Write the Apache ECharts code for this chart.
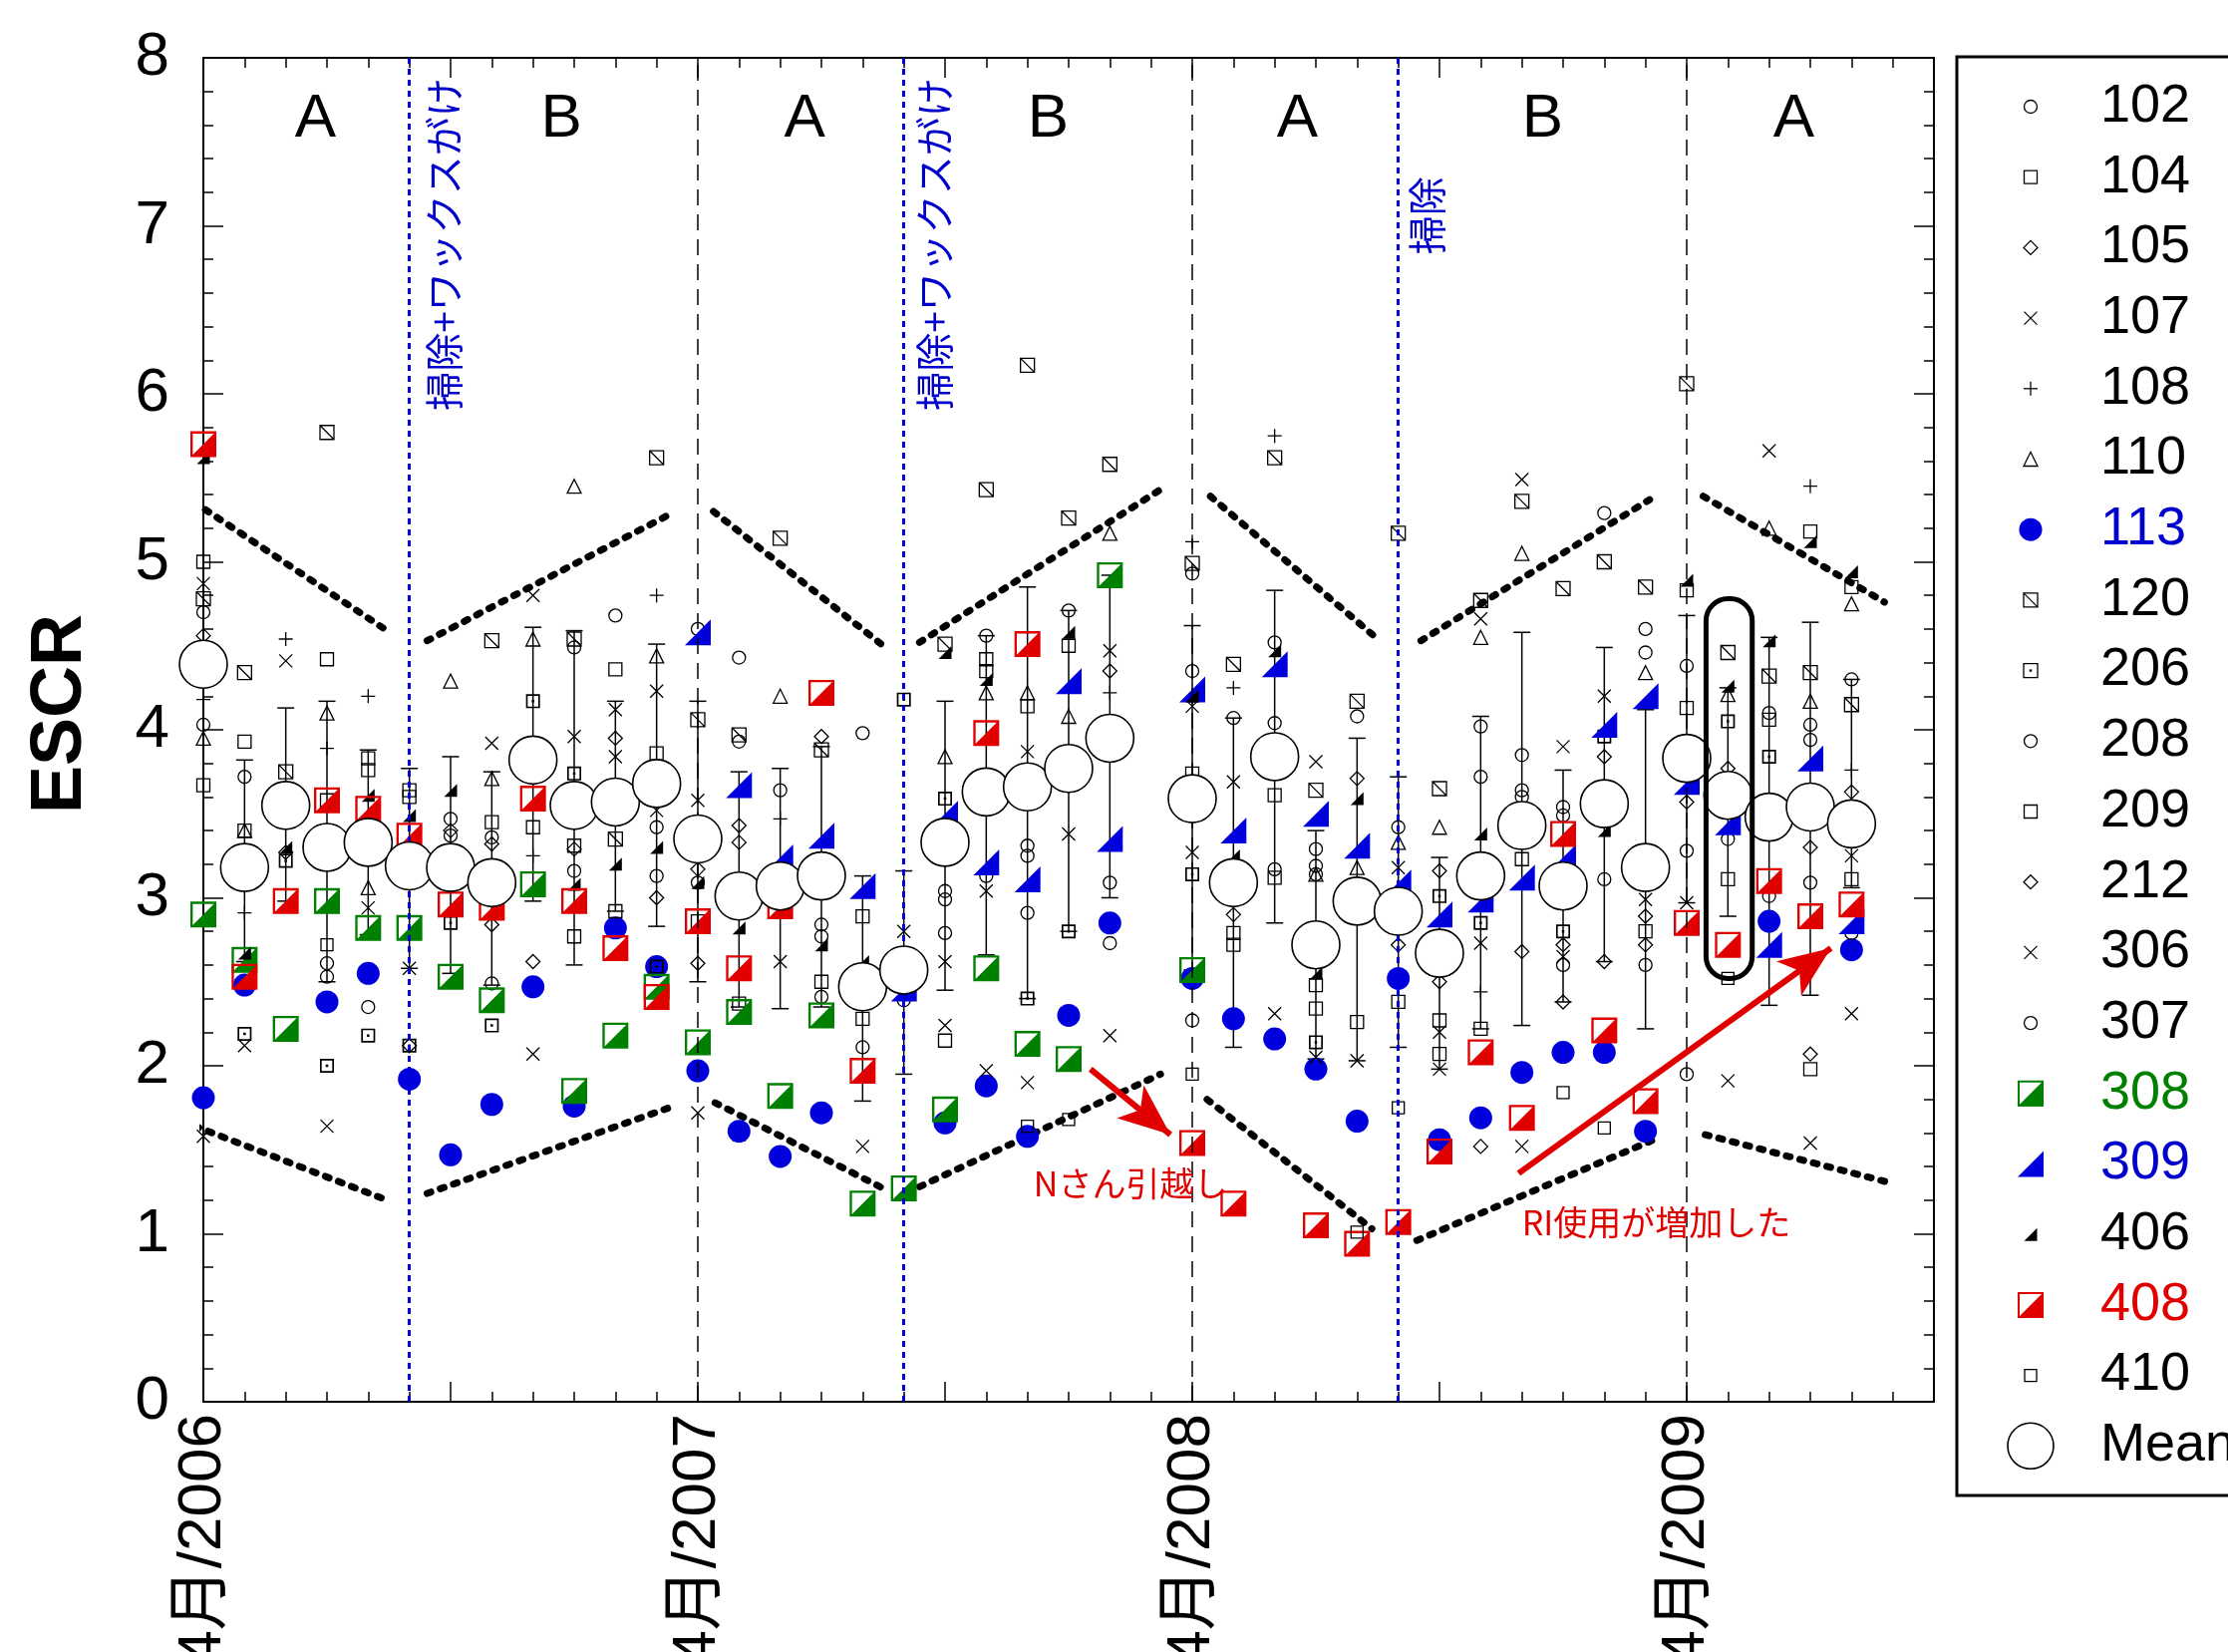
<!DOCTYPE html>
<html>
<head>
<meta charset="utf-8">
<script src="https://cdn.jsdelivr.net/npm/echarts@6/dist/echarts.min.js"></script>
<style>html,body{margin:0;padding:0;background:#fff;overflow:hidden}#chart{width:2235px;height:1657px}</style>
</head>
<body>
<div id="chart"></div>
<script>
// ================= DATA =================
const xTickLabels = ['4月/2006', '4月/2007', '4月/2008', '4月/2009'];
// month index 0 = April 2006
const months = [0,1,2,3,4,5,6,7,8,9,10,11,12,13,14,15,16,17,18,19,20,21,22,23,24,25,26,27,28,29,30,31,32,33,34,35,36,37,38,39,40];
const meanESCR = [4.39,3.18,3.55,3.30,3.33,3.19,3.18,3.09,3.82,3.55,3.57,3.68,3.35,3.01,3.07,3.13,2.47,2.57,3.33,3.63,3.66,3.77,3.95,null,3.59,3.09,3.84,2.72,2.98,2.92,2.67,3.13,3.43,3.07,3.56,3.18,3.83,3.61,3.48,3.54,3.44];
const meanLow  = [null,2.62,2.98,2.50,2.78,2.58,2.55,2.48,2.98,2.60,2.92,2.83,2.50,2.35,2.34,2.35,1.79,1.95,2.45,2.66,2.40,2.80,3.00,null,2.57,2.11,2.85,2.04,2.03,2.11,1.98,2.22,2.24,2.38,2.62,2.22,2.97,2.89,2.36,2.42,3.06];
const meanHigh = [null,3.82,4.13,4.17,3.88,3.77,3.84,3.75,4.61,4.59,4.17,4.51,4.17,3.75,3.77,3.90,3.13,3.16,4.17,4.56,4.85,4.71,4.92,null,4.62,4.07,4.83,3.40,3.95,3.72,3.24,4.08,4.58,3.76,4.49,4.12,4.68,4.25,4.55,4.64,4.30];

// [month, ESCR]
const s102 = [[0,4.70],[1,3.72],[3,2.61],[4,2.35],[6,3.47],[7,3.36],[8,3.88],[9,4.49],[10,4.68],[11,3.42],[12,4.60],[13,4.43],[14,3.64],[15,2.84],[16,3.98],[17,2.39],[18,3.04],[19,4.56],[20,3.31],[21,4.71],[22,3.09],[24,4.93],[25,4.07],[26,4.52],[27,3.29],[28,4.08],[29,3.42],[31,4.02],[32,3.85],[33,3.54],[34,5.29],[35,4.60],[36,4.38],[37,3.35],[38,4.10],[39,4.03],[40,4.30]];
const s104 = [[0,5.00],[1,3.93],[3,4.42],[4,3.83],[5,3.64],[7,3.45],[8,3.42],[9,3.31],[10,4.36],[11,3.86],[12,2.86],[13,2.37],[15,2.50],[16,2.89],[18,2.15],[19,4.42],[20,4.14],[21,4.50],[24,3.74],[25,2.79],[26,3.61],[27,2.34],[28,2.26],[29,2.38],[30,2.27],[31,2.22],[35,2.80],[36,4.83],[37,3.11],[38,4.06],[39,5.18],[40,4.85]];
const s105 = [[0,4.56],[2,3.27],[4,2.57],[5,2.12],[6,3.40],[7,3.32],[8,2.62],[9,3.29],[10,3.95],[11,3.00],[12,3.17],[13,3.43],[15,3.96],[22,4.35],[25,2.90],[28,3.71],[29,2.72],[30,3.16],[31,1.52],[32,2.68],[33,2.72],[34,3.84],[35,2.89],[36,3.57],[37,3.77],[39,3.30],[40,3.63]];
const s107 = [[0,4.87],[1,2.12],[2,4.41],[3,1.64],[4,2.94],[5,2.58],[7,3.92],[8,4.80],[9,3.96],[10,4.12],[11,4.23],[12,3.58],[13,1.59],[14,2.62],[16,1.52],[17,2.80],[18,2.62],[19,3.04],[20,3.87],[21,3.38],[22,4.47],[24,4.14],[25,3.69],[26,2.31],[27,3.81],[28,2.03],[29,3.18],[30,2.20],[31,4.66],[32,5.49],[33,3.90],[34,4.20],[35,2.99],[36,2.97],[37,1.91],[38,5.66],[39,1.54],[40,3.25]];
const s108 = [[0,4.18],[1,2.91],[2,4.54],[3,3.89],[4,4.20],[8,3.25],[11,4.80],[14,3.47],[22,4.22],[24,5.12],[25,4.25],[26,5.75],[31,2.44],[39,5.45],[40,3.76]];
const s110 = [[0,3.95],[1,3.40],[3,4.10],[4,3.06],[6,4.29],[7,3.71],[8,4.54],[9,5.45],[11,4.44],[14,4.20],[18,3.84],[19,4.22],[20,4.22],[21,4.08],[22,5.17],[27,3.14],[28,3.18],[29,3.33],[30,3.42],[31,4.55],[32,5.05],[35,4.34],[37,4.21],[38,5.20],[39,4.17],[40,4.75]];
const s113 = [[0,1.81],[1,2.48],[3,2.38],[4,2.55],[5,1.92],[6,1.47],[7,1.77],[8,2.47],[9,1.76],[10,2.82],[11,2.59],[12,1.97],[13,1.61],[14,1.46],[15,1.72],[18,1.66],[19,1.88],[20,1.58],[21,2.30],[22,2.85],[24,2.52],[25,2.28],[26,2.16],[27,1.98],[28,1.67],[29,2.52],[30,1.56],[31,1.69],[32,1.96],[33,2.08],[34,2.08],[35,1.61],[38,2.86],[40,2.69]];
const s120 = [[0,4.78],[1,4.34],[2,3.75],[3,5.77],[7,4.53],[9,4.54],[10,3.35],[11,5.62],[12,4.06],[13,3.97],[14,5.14],[15,3.88],[18,4.51],[19,5.43],[20,6.17],[21,5.26],[22,5.58],[24,4.99],[25,4.39],[26,5.62],[27,3.64],[28,4.17],[29,5.17],[30,3.65],[31,4.77],[32,5.36],[33,4.84],[34,5.00],[35,4.85],[36,6.06],[37,4.46],[38,4.32],[39,4.34],[40,4.15]];
const s206 = [[1,2.19],[2,3.22],[3,2.00],[4,2.18],[5,2.12],[6,2.85],[7,2.24],[8,4.17],[9,3.74],[11,2.59],[17,4.18],[18,3.59],[20,2.40],[21,2.80],[24,3.14],[27,2.14],[30,3.01],[31,2.85],[33,2.80],[34,3.96],[37,4.05],[38,3.84]];
const s208 = [[0,4.03],[3,2.53],[6,3.37],[7,2.49],[9,3.16],[11,3.13],[12,3.09],[13,3.93],[15,2.77],[16,2.11],[18,2.99],[19,3.13],[20,3.25],[22,2.73],[24,4.35],[26,4.04],[27,3.19],[31,3.72],[32,3.64],[33,3.49],[34,3.11],[35,4.46],[36,3.28],[38,3.01],[39,3.94],[40,2.79]];
const s209 = [[0,3.67],[1,3.40],[3,3.58],[4,3.76],[5,3.60],[9,2.77],[10,2.92],[16,2.28],[19,4.35],[25,2.72],[26,3.12],[27,2.48],[30,2.07],[32,3.23],[36,4.13],[39,1.98],[40,3.11]];
const s212 = [[7,2.84],[12,2.61],[13,3.33],[30,2.50],[33,2.38],[34,2.62],[35,2.72],[39,2.07]];
const s306 = [[0,1.58],[8,2.07],[10,3.84],[11,3.52],[12,1.72],[18,2.24],[19,1.97],[20,1.90],[22,2.18],[24,3.27],[27,2.05],[30,1.98],[31,2.73],[32,1.52],[33,2.65],[40,2.31]];
const s307 = [[15,2.41],[18,2.79],[20,2.91],[24,2.27],[26,3.17],[27,3.14],[32,3.60],[33,2.60],[35,2.60],[36,1.95],[39,3.09]];
const s308 = [[0,2.90],[1,2.63],[2,2.22],[3,2.98],[4,2.82],[5,2.82],[6,2.53],[7,2.39],[8,3.08],[9,1.85],[10,2.18],[11,2.47],[12,2.14],[13,2.32],[14,1.82],[15,2.30],[16,1.18],[17,1.27],[18,1.74],[19,2.58],[20,2.13],[21,2.04],[22,4.92],[24,2.57]];
const s309 = [[12,4.58],[13,3.67],[14,3.24],[15,3.37],[16,3.07],[17,2.46],[18,3.50],[19,3.21],[20,3.11],[21,4.29],[22,3.35],[24,4.24],[25,3.40],[26,4.39],[27,3.50],[28,3.31],[29,3.09],[30,2.90],[31,2.99],[32,3.12],[33,3.24],[34,4.03],[35,4.20],[36,3.69],[37,3.45],[38,2.72],[39,3.83],[40,2.86]];
const s406 = [[0,5.62],[1,2.67],[2,3.30],[4,3.61],[5,3.49],[6,3.64],[9,3.08],[10,3.20],[11,3.30],[12,3.09],[13,2.82],[15,2.72],[16,2.62],[18,4.46],[19,4.30],[21,4.58],[24,4.20],[25,3.25],[26,4.47],[27,2.55],[28,3.59],[31,3.38],[34,3.40],[36,4.89],[37,4.26],[38,4.53],[39,5.12],[40,4.94]];
const s408 = [[0,5.70],[1,2.53],[2,2.98],[3,3.58],[4,3.53],[5,3.37],[6,2.96],[7,2.94],[8,3.59],[9,2.98],[10,2.70],[11,2.41],[12,2.86],[13,2.58],[14,2.95],[15,4.22],[16,1.97],[19,3.98],[20,4.51],[24,1.54],[25,1.18],[27,1.05],[28,0.94],[29,1.07],[30,1.49],[31,2.08],[32,1.69],[33,3.38],[34,2.21],[35,1.79],[36,2.85],[37,2.72],[38,3.10],[39,2.89],[40,2.96]];
const s410 = [[3,2.72],[20,1.64],[21,1.68],[24,1.95],[28,1.01],[29,1.75],[33,1.84],[34,1.63],[37,2.52]];

// control limits (upper / lower), one segment per period
const upperLimits = [[[0.05,5.31],[4.46,4.59]],[[5.43,4.53],[11.3,5.28]],[[12.38,5.30],[16.45,4.51]],[[17.38,4.52],[23.23,5.43]],[[24.44,5.39],[28.5,4.54]],[[29.55,4.53],[35.1,5.37]],[[36.4,5.39],[40.8,4.76]]];
const lowerLimits = [[[-0.2,1.64],[4.46,1.20]],[[5.43,1.24],[11.3,1.75]],[[12.42,1.78],[16.5,1.27]],[[17.38,1.28],[23.23,1.95]],[[24.36,1.80],[28.36,1.03]],[[29.45,0.96],[35.3,1.57]],[[36.45,1.59],[40.83,1.31]]];
const fiscalYearStarts = [12, 24, 36];
const cleaningMonths = [5, 17, 29];

// annotations
const periodNames = ['A','B','A','B','A','B','A'];
const periodCenters = [2.72, 8.69, 14.59, 20.5, 26.55, 32.5, 38.6];
const eventNotes = [
  {text:'掃除+ワックスがけ', at:[5.83, 5.90]},
  {text:'掃除+ワックスがけ', at:[17.74, 5.90]},
  {text:'掃除', at:[29.69, 6.83]}
];
const redNotes = [
  {text:'Nさん引越し', at:[20.15, 1.30]},
  {text:'RI使用が増加した', at:[32.0, 1.07]}
];
const redArrows = [[[21.53, 1.98], [23.47, 1.59]], [[31.92, 1.36], [39.5, 2.70]]];
const highlightBox = [36.47, 4.78, 37.59, 2.52];

// ================= STYLE =================
const NARROW = "'Liberation Sans Narrow','Liberation Sans','Noto Sans CJK JP',sans-serif";
const SANS = "'Liberation Sans','Noto Sans CJK JP',sans-serif";
const CJK = "'Noto Sans CJK JP',sans-serif";
const BLUE = '#0000dd', GREEN = '#008000', RED = '#e00000';
const P = {
  sq: 'M0,0L10,0L10,10L0,10Z',
  dia: 'M5,0L10,5L5,10L0,5Z',
  x: 'M0,0L10,10M10,0L0,10',
  plus: 'M5,0L5,10M0,5L10,5',
  tri: 'M5,0L10,10L0,10Z',
  boxDiag: 'M0,0L10,0L10,10L0,10ZM0,0L10,10',
  boxDot: 'M0,0L10,0L10,10L0,10ZM1.2,1.2L1.2,8.8L8.8,8.8L8.8,1.2ZM4.1,4.1L5.9,4.1L5.9,5.9L4.1,5.9Z',
  half: 'M0,0L10,0L10,10L0,10ZM0.9,0.9L0.9,9.1L9.1,9.1L9.1,0.9ZM0,10L10,0L10,10Z',
  rtri: 'M0,10L10,0L10,10Z'
};
const STY = [
  {name:'102', data:s102, shape:'circle', size:13},
  {name:'104', data:s104, shape:'sq', size:13},
  {name:'105', data:s105, shape:'dia', size:14},
  {name:'107', data:s107, shape:'x', size:13},
  {name:'108', data:s108, shape:'plus', size:14},
  {name:'110', data:s110, shape:'tri', size:14},
  {name:'113', data:s113, shape:'circle', size:23, fill:BLUE, text:'#0000cc'},
  {name:'120', data:s120, shape:'boxDiag', size:14},
  {name:'206', data:s206, shape:'boxDot', size:14, fill:'#000'},
  {name:'208', data:s208, shape:'circle', size:13},
  {name:'209', data:s209, shape:'sq', size:13},
  {name:'212', data:s212, shape:'dia', size:14},
  {name:'306', data:s306, shape:'x', size:13},
  {name:'307', data:s307, shape:'circle', size:13},
  {name:'308', data:s308, shape:'half', size:26, fill:GREEN, text:GREEN},
  {name:'309', data:s309, shape:'rtri', size:26, fill:BLUE, text:'#0000cc'},
  {name:'406', data:s406, shape:'rtri', size:13, fill:'#000'},
  {name:'408', data:s408, shape:'half', size:26, fill:RED, text:RED},
  {name:'410', data:s410, shape:'sq', size:12}
];

function itemStyleFor(s){
  return s.fill ? {color:s.fill, borderWidth:0, opacity:1}
                : {color:'rgba(255,255,255,0)', borderColor:'#000', borderWidth:1.3, opacity:1};
}

const series = [];

// vertical reference lines (bottom layer)
series.push({type:'line', data:[], z:1, silent:true,
  markLine:{silent:true, symbol:'none', animation:false, label:{show:false},
    lineStyle:{color:'#000', type:[16,9], width:1.5},
    data: fiscalYearStarts.map(m => ({xAxis:m}))}});
series.push({type:'line', data:[], z:1, silent:true,
  markLine:{silent:true, symbol:'none', animation:false, label:{show:false},
    lineStyle:{color:BLUE, type:[6,5], width:3},
    data: cleaningMonths.map(m => ({xAxis:m}))}});

// control limits
upperLimits.concat(lowerLimits).forEach(seg => {
  series.push({type:'line', data:seg, symbol:'none', silent:true, clip:false, z:2,
    lineStyle:{color:'#000', width:7, type:[4,10], cap:'round'}});
});

// error bars of mean
series.push({type:'custom', name:'err', z:2, silent:true, clip:false,
  data: months.map((m,i) => meanLow[i]==null ? null : [m, meanLow[i], meanHigh[i]]).filter(d => d),
  encode:{x:0, y:[1,2]},
  renderItem(params, api){
    const x = api.value(0);
    const a = api.coord([x, api.value(1)]), b = api.coord([x, api.value(2)]);
    const w = 8.5, st = {stroke:'#000', lineWidth:1.5};
    return {type:'group', children:[
      {type:'line', shape:{x1:a[0], y1:a[1], x2:b[0], y2:b[1]}, style:st},
      {type:'line', shape:{x1:a[0]-w, y1:a[1], x2:a[0]+w, y2:a[1]}, style:st},
      {type:'line', shape:{x1:b[0]-w, y1:b[1], x2:b[0]+w, y2:b[1]}, style:st}
    ]};
  }});

// individual sampling points
STY.forEach((s, k) => {
  series.push({type:'scatter', name:s.name, data:s.data, clip:false, silent:true, z:3,
    symbol: s.shape === 'circle' ? 'circle' : 'path://' + P[s.shape],
    symbolSize: s.size, itemStyle: itemStyleFor(s), emphasis:{disabled:true}});
});

// means
series.push({type:'scatter', name:'Mean', clip:false, silent:true, z:5,
  data: months.map((m,i) => meanESCR[i]==null ? null : [m, meanESCR[i]]).filter(d => d),
  symbol:'circle', symbolSize:48,
  itemStyle:{color:'#fff', borderColor:'#000', borderWidth:1.6, opacity:1}, emphasis:{disabled:true}});

// red arrows
series.push({type:'line', data:[], z:7, silent:true,
  markLine:{silent:true, animation:false, symbol:['none','arrow'], symbolSize:[32,52], label:{show:false},
    lineStyle:{color:RED, width:6, type:'solid'},
    data: redArrows.map(a => [{coord:a[0]}, {coord:a[1]}])}});

// text annotations
const notes = [];
periodNames.forEach((t,i) => notes.push({text:t, at:[periodCenters[i], 7.63], size:62, font:NARROW, color:'#000', align:'center', rot:0}));
eventNotes.forEach(n => notes.push({text:n.text, at:n.at, size:39, font:CJK, color:'#0000cc', align:'left', rot:Math.PI/2}));
redNotes.forEach(n => notes.push({text:n.text, at:n.at, size:34, font:CJK, color:RED, align:'left', rot:0}));
series.push({type:'custom', name:'notes', z:7, silent:true, clip:false,
  data: notes.map(n => n.at), encode:{x:0, y:1},
  renderItem(params, api){
    const n = notes[params.dataIndex];
    const p = api.coord([api.value(0), api.value(1)]);
    return {type:'text', x:p[0], y:p[1], rotation:n.rot,
      style:{text:n.text, fill:n.color, fontSize:n.size, fontFamily:n.font, align:n.align, verticalAlign:'middle'}};
  }});

// highlight rounded box
series.push({type:'custom', name:'box', z:7, silent:true, clip:false,
  data:[highlightBox], encode:{x:[0,2], y:[1,3]},
  renderItem(params, api){
    const a = api.coord([api.value(0), api.value(1)]);
    const b = api.coord([api.value(2), api.value(3)]);
    return {type:'rect', shape:{x:a[0], y:a[1], width:b[0]-a[0], height:b[1]-a[1], r:22},
      style:{fill:'none', stroke:'#000', lineWidth:5}};
  }});

// ================= LEGEND (drawn) =================
function legendIcon(shape, cx, cy, size, fill){
  const h = size / 2, x0 = cx - h, y0 = cy - h, x1 = cx + h, y1 = cy + h;
  const hollow = {fill:'none', stroke:'#000', lineWidth:1.3};
  const ln = (a,b,c,d) => ({type:'line', shape:{x1:a, y1:b, x2:c, y2:d}, style:{stroke:'#000', lineWidth:1.3}});
  switch (shape) {
    case 'circle': return [{type:'circle', shape:{cx, cy, r:h}, style: fill ? {fill, stroke:null} : hollow}];
    case 'sq': return [{type:'rect', shape:{x:x0, y:y0, width:size, height:size}, style:hollow}];
    case 'dia': return [{type:'polygon', shape:{points:[[cx,y0],[x1,cy],[cx,y1],[x0,cy]]}, style:hollow}];
    case 'x': return [ln(x0,y0,x1,y1), ln(x1,y0,x0,y1)];
    case 'plus': return [ln(cx,y0,cx,y1), ln(x0,cy,x1,cy)];
    case 'tri': return [{type:'polygon', shape:{points:[[cx,y0],[x1,y1],[x0,y1]]}, style:hollow}];
    case 'boxDiag': return [{type:'rect', shape:{x:x0, y:y0, width:size, height:size}, style:hollow}, ln(x0,y0,x1,y1)];
    case 'boxDot': return [{type:'rect', shape:{x:x0, y:y0, width:size, height:size}, style:hollow},
                           {type:'rect', shape:{x:cx-1.2, y:cy-1.2, width:2.4, height:2.4}, style:{fill:'#000'}}];
    case 'half': return [{type:'rect', shape:{x:x0+1, y:y0+1, width:size-2, height:size-2}, style:{fill:'none', stroke:fill, lineWidth:2}},
                         {type:'polygon', shape:{points:[[x0,y1],[x1,y0],[x1,y1]]}, style:{fill}}];
    case 'rtri': return [{type:'polygon', shape:{points:[[x0,y1],[x1,y0],[x1,y1]]}, style:{fill}}];
  }
  return [];
}
const legendNames = STY.map(s => s.name).concat(['Mean']);
const LG = {left:1963, top:57, w:420, h:1443, first:107, step:70.7, iconX:2037, textX:2107};
const graphic = [{type:'rect', z:100, silent:true, shape:{x:LG.left, y:LG.top, width:LG.w, height:LG.h},
  style:{fill:'#fff', stroke:'#000', lineWidth:3}}];
legendNames.forEach((name, i) => {
  const y = LG.first + i * LG.step;
  const s = STY[i];
  const icons = s ? legendIcon(s.shape, LG.iconX, y, s.size, s.fill)
                  : [{type:'circle', shape:{cx:LG.iconX, cy:y, r:23}, style:{fill:'#fff', stroke:'#000', lineWidth:1.6}}];
  icons.forEach(el => { el.z = 101; el.silent = true; graphic.push(el); });
  graphic.push({type:'text', z:101, silent:true, x:LG.textX, y:y,
    style:{text:name, fill:(s && s.text) || '#000', fontSize:54, fontFamily:SANS, align:'left', verticalAlign:'middle'}});
});

// ================= AXES =================
const axisLineStyle = {show:true, onZero:false, lineStyle:{color:'#000', width:2}};
const tickStyle = {show:true, inside:true, length:20, lineStyle:{color:'#000', width:1.5}};
function xAx(pos, labels){
  return {type:'value', min:0, max:42, interval:6, position:pos, axisLine:axisLineStyle, axisTick:tickStyle,
    minorTick:{show:true, splitNumber:6, length:10, lineStyle:{color:'#000', width:1.5}},
    splitLine:{show:false}, minorSplitLine:{show:false},
    axisLabel: labels ? {show:true, rotate:90, margin:12, fontSize:62, color:'#000', fontFamily:NARROW,
      showMinLabel:true, showMaxLabel:true, hideOverlap:false,
      formatter: v => { const r = Math.round(v); return r % 12 === 0 ? (xTickLabels[r/12] || '') : ''; }} : {show:false}};
}
function yAx(pos, labels){
  const a = {type:'value', min:0, max:8, interval:1, position:pos, axisLine:axisLineStyle, axisTick:tickStyle,
    minorTick:{show:true, splitNumber:5, length:10, lineStyle:{color:'#000', width:1.5}},
    splitLine:{show:false}, minorSplitLine:{show:false},
    axisLabel: labels ? {show:true, margin:34, fontSize:62, color:'#000', fontFamily:SANS} : {show:false}};
  if (labels) Object.assign(a, {name:'ESCR', nameLocation:'middle', nameGap:107, nameRotate:90,
    nameTextStyle:{fontSize:72, fontWeight:'bold', color:'#000', fontFamily:SANS, padding:[0,0,0,32]}});
  return a;
}

const option = {
  animation:false,
  backgroundColor:'#fff',
  grid:{left:204, top:58, width:1736, height:1348, containLabel:false, outerBoundsMode:'none'},
  xAxis:[xAx('bottom', true), xAx('top', false)],
  yAxis:[yAx('left', true), yAx('right', false)],
  series: series,
  graphic: graphic
};
const chart = echarts.init(document.getElementById('chart'), null, {renderer:'canvas', width:2235, height:1657});
chart.setOption(option);
</script>
</body>
</html>
